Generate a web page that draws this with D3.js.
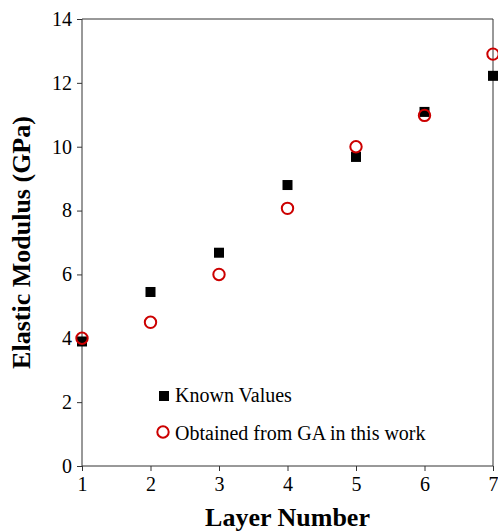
<!DOCTYPE html>
<html>
<head>
<meta charset="utf-8">
<script src="https://cdn.jsdelivr.net/npm/d3@7"></script>
<style>
  body { margin: 0; background: #fff; }
  text { font-family: "Liberation Serif", "Times New Roman", serif; }
</style>
</head>
<body>
<div id="chart"></div>
<script>
// layer numbers and moduli (GPa)
const layers = [1, 2, 3, 4, 5, 6, 7];
const knownValues = [3.9, 5.45, 6.68, 8.8, 9.68, 11.09, 12.22];
const gaValues = [4.0, 4.5, 6.0, 8.07, 10.0, 10.98, 12.9];
const yTicks = [0, 2, 4, 6, 8, 10, 12, 14];

const W = 498, H = 532;
const margin = { top: 19, right: 5, bottom: 66, left: 82 };

const svg = d3.select("#chart").append("svg")
	.attr("width", W)
	.attr("height", H);

const x = d3.scaleLinear()
	.domain([1, 7])
	.range([margin.left, W - margin.right]);

const y = d3.scaleLinear()
	.domain([0, 14])
	.range([H - margin.bottom, margin.top]);

// frame (top and right edges)
svg.append("path")
	.attr("d", `M${x(1)},${y(14)}H${x(7)}V${y(0)}`)
	.attr("fill", "none")
	.attr("stroke", "#333")
	.attr("stroke-width", 1);

const xAxis = svg.append("g")
	.attr("transform", `translate(0,${y(0)})`)
	.call(d3.axisBottom(x).tickValues(layers).tickSize(5).tickPadding(6).tickFormat(d3.format("d")));

const yAxis = svg.append("g")
	.attr("transform", `translate(${x(1)},0)`)
	.call(d3.axisLeft(y).tickValues(yTicks).tickSize(5).tickPadding(5).tickFormat(d3.format("d")));

[xAxis, yAxis].forEach(g => {
	g.select(".domain").attr("stroke", "#333").attr("d", g === xAxis ? `M${x(1)},0H${x(7)}` : `M0,${y(0)}V${y(14)}`);
	g.selectAll(".tick line").attr("stroke", "#333");
	g.selectAll(".tick text")
		.attr("fill", "#000")
		.style("font-size", "20px")
		.style("font-family", "'Liberation Serif', serif");
});

// axis titles
svg.append("text")
	.attr("x", (x(1) + x(7)) / 2)
	.attr("y", 526)
	.attr("text-anchor", "middle")
	.style("font-size", "26px")
	.style("font-weight", "bold")
	.text("Layer Number");

svg.append("text")
	.attr("transform", `translate(30,${(y(0) + y(14)) / 2}) rotate(-90)`)
	.attr("text-anchor", "middle")
	.style("font-size", "26px")
	.style("font-weight", "bold")
	.text("Elastic Modulus (GPa)");

// known values (black squares)
const sq = 10;
svg.append("g")
	.selectAll("rect")
	.data(layers.map((l, i) => ({ l, v: knownValues[i] })))
	.enter()
	.append("rect")
	.attr("x", d => x(d.l) - sq / 2)
	.attr("y", d => y(d.v) - sq / 2)
	.attr("width", sq)
	.attr("height", sq)
	.attr("fill", "#000");

// GA results (red open circles)
svg.append("g")
	.selectAll("circle")
	.data(layers.map((l, i) => ({ l, v: gaValues[i] })))
	.enter()
	.append("circle")
	.attr("cx", d => x(d.l))
	.attr("cy", d => y(d.v))
	.attr("r", 5.7)
	.attr("fill", "none")
	.attr("stroke", "#cc0000")
	.attr("stroke-width", 2);

// legend
const legend = svg.append("g").attr("transform", "translate(164,0)");

legend.append("rect")
	.attr("x", -sq / 2)
	.attr("y", 396 - sq / 2)
	.attr("width", sq)
	.attr("height", sq)
	.attr("fill", "#000");

legend.append("text")
	.attr("x", 11)
	.attr("y", 402)
	.style("font-size", "20px")
	.text("Known Values");

legend.append("circle")
	.attr("cx", -1)
	.attr("cy", 432)
	.attr("r", 5.7)
	.attr("fill", "none")
	.attr("stroke", "#cc0000")
	.attr("stroke-width", 2);

legend.append("text")
	.attr("x", 11)
	.attr("y", 440)
	.style("font-size", "20px")
	.text("Obtained from GA in this work");
</script>
</body>
</html>
